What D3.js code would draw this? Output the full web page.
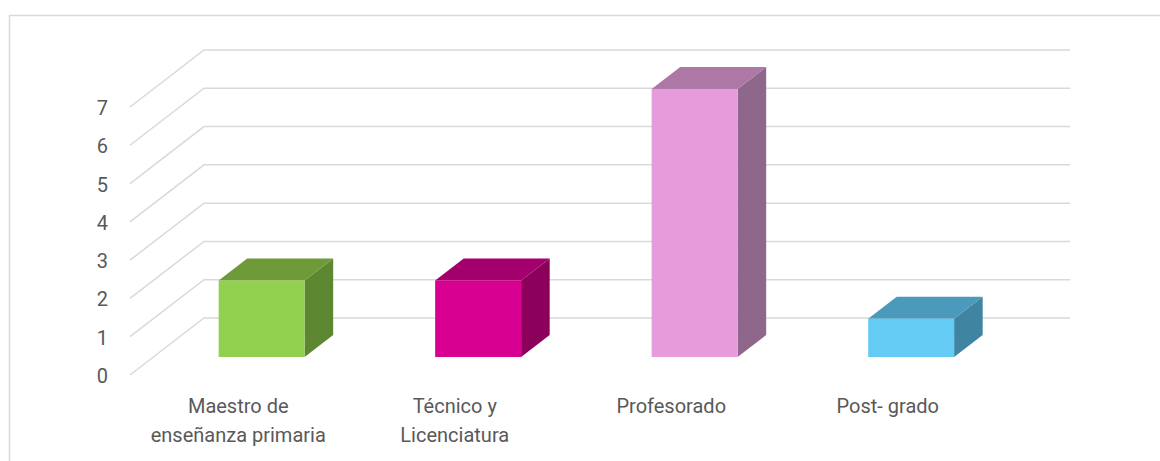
<!DOCTYPE html>
<html>
<head>
<meta charset="utf-8">
<script src="https://cdn.jsdelivr.net/npm/d3@7"></script>
<style>
  html, body { margin: 0; padding: 0; background: #fff; }
  svg { display: block; }
  text { font-family: Roboto, "Noto Sans", sans-serif; fill: #595959; }
</style>
</head>
<body>
<svg id="chart" width="1160" height="461"></svg>
<script>
// Nivel académico: categories, counts and axis ticks
const categories = ["Maestro de enseñanza primaria", "Técnico y Licenciatura", "Profesorado", "Post- grado"];
const categoryLines = [["Maestro de", "enseñanza primaria"], ["Técnico y", "Licenciatura"], ["Profesorado"], ["Post- grado"]];
const values = [2, 2, 7, 1];
const yTicks = [0, 1, 2, 3, 4, 5, 6, 7];

const frontColors = ["#92d050", "#d80091", "#e69cdb", "#63cbf4"];
const topColors   = ["#6f9a3a", "#a3006d", "#ad78a6", "#4b9abb"];
const sideColors  = ["#5e8732", "#8a005b", "#8f678b", "#3f84a0"];

const svg = d3.select("#chart");

// Outer frame (open on the right and bottom edges of the view)
svg.append("rect")
  .attr("x", 9.5).attr("y", 15.5)
  .attr("width", 1200).attr("height", 500)
  .attr("fill", "none").attr("stroke", "#d9d9d9").attr("stroke-width", 1.5);

// 3D projection: the floor front edge and the back wall are offset by a depth vector
const depthDX = 74, depthDY = -57;
const frontLeft = 130, frontRight = 996;

// Value scale on the front plane
const y = d3.scaleLinear().domain([0, 7]).range([375, 375 - 7 * 38.29]);

// Category scale on the front plane
const x = d3.scaleBand().domain(categories)
  .range([frontLeft, frontRight])
  .paddingInner(0.603).paddingOuter(0.3015);

// Gridlines: diagonal along the side wall then horizontal along the back wall
const grid = svg.append("g");
yTicks.forEach(v => {
  const yf = y(v);
  grid.append("path")
    .attr("d", d3.line()([[frontLeft, yf], [frontLeft + depthDX, yf + depthDY], [frontRight + depthDX, yf + depthDY]]))
    .attr("fill", "none").attr("stroke", "#d9d9d9").attr("stroke-width", 1.5);
});

// Value axis labels
svg.append("g").selectAll("text").data(yTicks).join("text")
  .attr("x", 108).attr("y", d => y(d) + 8)
  .attr("text-anchor", "end").attr("font-size", 20)
  .text(d => d);

// Bars as boxes placed in the middle of the depth
const f0 = 0.316, f1 = 0.702;
const bars = svg.append("g");
categories.forEach((c, i) => {
  const v = values[i];
  const x0 = x(c) + f0 * depthDX;
  const x1 = x0 + x.bandwidth();
  const yb = y(0) + f0 * depthDY;
  const yt = y(v) + f0 * depthDY;
  const ddx = (f1 - f0) * depthDX, ddy = (f1 - f0) * depthDY;
  const g = bars.append("g");
  // side face
  g.append("path")
    .attr("d", d3.line()([[x1, yt], [x1 + ddx, yt + ddy], [x1 + ddx, yb + ddy], [x1, yb]]) + "Z")
    .attr("fill", sideColors[i]);
  // top face
  g.append("path")
    .attr("d", d3.line()([[x0, yt], [x0 + ddx, yt + ddy], [x1 + ddx, yt + ddy], [x1, yt]]) + "Z")
    .attr("fill", topColors[i]);
  // front face
  g.append("rect")
    .attr("x", x0).attr("y", yt)
    .attr("width", x1 - x0).attr("height", yb - yt)
    .attr("fill", frontColors[i]);
});

// Category labels centred on the front floor edge
const labels = svg.append("g");
categories.forEach((c, i) => {
  const t = labels.append("text")
    .attr("text-anchor", "middle").attr("font-size", 20)
    .attr("x", x(c) + x.bandwidth() / 2)
    .attr("y", 413);
  categoryLines[i].forEach((line, k) => {
    t.append("tspan")
      .attr("x", x(c) + x.bandwidth() / 2)
      .attr("y", 413 + k * 29)
      .text(line);
  });
});
</script>
</body>
</html>
